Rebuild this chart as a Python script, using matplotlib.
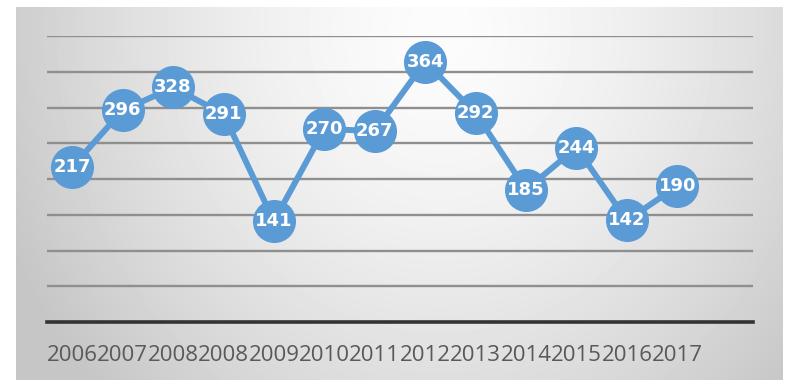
import matplotlib
matplotlib.use("Agg")
import matplotlib.pyplot as plt
import numpy as np

years = ["2006", "2007", "2008", "2008", "2009", "2010", "2011",
         "2012", "2013", "2014", "2015", "2016", "2017"]
counts = [217, 296, 328, 291, 141, 270, 267, 364, 292, 185, 244, 142, 190]

W, H = 786, 380
fig = plt.figure(figsize=(W / 100, H / 100), dpi=100)
fig.patch.set_facecolor("white")

# gradient panel behind the chart
px0, py0, px1, py1 = 16, 7, 783, 380
bg = fig.add_axes([px0 / W, 1 - py1 / H, (px1 - px0) / W, (py1 - py0) / H])
gx, gy = np.meshgrid(np.arange(px0, px1), np.arange(py0, py1))
r = np.sqrt(((gx - 440) / 470.0) ** 2 + ((gy - 30) / 520.0) ** 2)
shade = 252 - 54 * np.clip(r, 0, 1) ** 1.5
bg.imshow(shade, cmap="gray", vmin=0, vmax=255, aspect="auto",
          interpolation="bilinear")
bg.set_axis_off()

# plot area
ax = fig.add_axes([47 / W, 58 / H, (753 - 47) / W, (344 - 58) / H])
ax.patch.set_alpha(0)
x = np.arange(len(counts))
ax.set_xlim(-0.5, len(counts) + 0.5)
ax.set_ylim(0, 400)
ax.set_yticks(np.arange(50, 401, 50))
ax.grid(axis="y", color="#8f8f8f", linewidth=1.7)
ax.tick_params(axis="y", left=False, labelleft=False)
ax.tick_params(axis="x", bottom=False, pad=13, labelsize=16,
               labelcolor="#595959")
ax.set_xticks(x)
ax.set_xticklabels(years, fontfamily="Open Sans")
for side in ["top", "left", "right"]:
    ax.spines[side].set_visible(False)
ax.spines["bottom"].set_color("#333333")
ax.spines["bottom"].set_linewidth(2.6)
ax.set_axisbelow(True)

blue = "#5b9bd5"
ax.plot(x, counts, color=blue, linewidth=4.3, marker="o", markersize=31,
        markeredgewidth=0, solid_capstyle="round", clip_on=False, zorder=3)
for xi, v in zip(x, counts):
    ax.text(xi, v, str(v), color="white", fontsize=13, fontweight="bold",
            ha="center", va="center", zorder=4)

fig.savefig("out.png", dpi=100)
